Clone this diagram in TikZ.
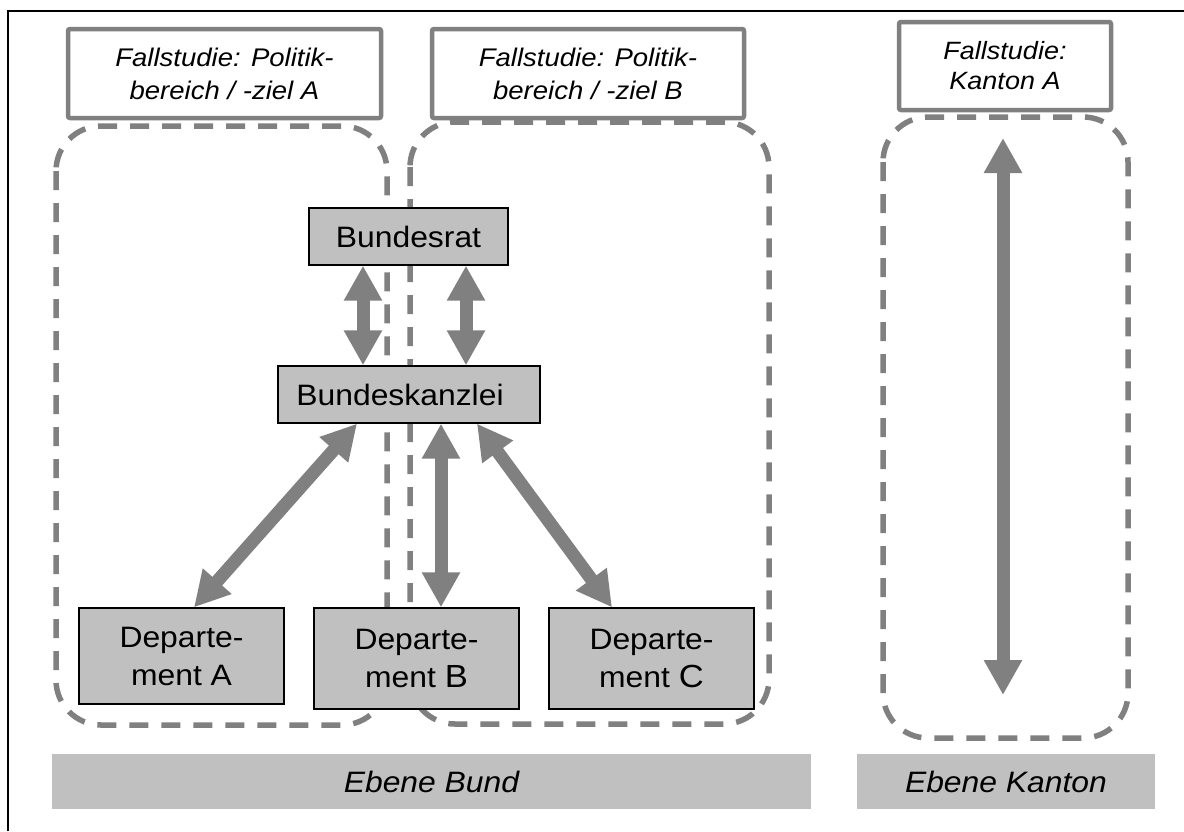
\documentclass[tikz,border=0pt]{standalone}
\usepackage{fontspec}
\setmainfont{Liberation Sans}[FakeStretch=1.08]
\usetikzlibrary{arrows.meta}
\definecolor{dgray}{HTML}{808080}
\definecolor{lgray}{HTML}{C0C0C0}
\begin{document}
\begin{tikzpicture}[x=1pt,y=-1pt,
  region/.style={draw=dgray, line width=5.5pt, dash pattern=on 19pt off 13pt, rounded corners=45pt},
  header/.style={draw=dgray, line width=4.5pt, fill=white, align=center, inner sep=0pt, rounded corners=2pt, font=\fontsize{25.5}{33}\selectfont\itshape},
  unit/.style={draw=black, line width=1.3pt, fill=lgray, align=center, inner sep=0pt, font=\fontsize{29.5}{38}\selectfont},
  level/.style={fill=lgray, inner sep=0pt, font=\fontsize{29.5}{36}\selectfont\itshape},
  link/.style={draw=dgray, line width=13pt, {Triangle[width=36pt,length=35pt]}-{Triangle[width=36pt,length=35pt]}},
  frame/.style={draw=black, line width=2.5pt}
]
\useasboundingbox (0,0) rectangle (1184,831);
\fill[white] (0,0) rectangle (1184,831);
% frame (only top and left edges are visible)
\draw[frame] (8,831) -- (8,11) -- (1184,11);

% dashed regions
\draw[region] (56,126) rectangle (387,725);
\draw[region] (410,122) rectangle (769,724);
\draw[region] (883,117) rectangle (1128,738);

% headers
\node[header, minimum width=313pt, minimum height=89pt] (hA) at (224.5,73.5) {Fallstudie: Politik-\\bereich / -ziel A};
\node[header, minimum width=312pt, minimum height=89pt] (hB) at (588,73.5) {Fallstudie: Politik-\\bereich / -ziel B};
\node[header, minimum width=212pt, minimum height=88pt, font=\fontsize{25}{30}\selectfont\itshape] (hK) at (1005,66) {Fallstudie:\\Kanton A};

% units
\node[unit, minimum width=199pt, minimum height=57pt] (br) at (408.5,236.5) {Bundesrat};
\node[unit, minimum width=262pt, minimum height=57pt] (bk) at (409,394.5) {Bundeskanzlei\hspace*{18pt}};
\node[unit, minimum width=205pt, minimum height=96pt] (dA) at (181.5,656) {Departe-\\ment A};
\node[unit, minimum width=205pt, minimum height=101pt] (dB) at (416.5,658.5) {Departe-\\ment {\fontsize{32}{38}\selectfont B}};
\node[unit, minimum width=205pt, minimum height=101pt] (dC) at (651.5,658.5) {Departe-\\ment {\fontsize{32}{38}\selectfont C}};

% levels
\node[level, minimum width=759pt, minimum height=55pt] (eB) at (431.5,781.5) {Ebene Bund};
\node[level, minimum width=298pt, minimum height=55pt] (eK) at (1006,781.5) {Ebene Kanton};

% arrows
\draw[link] ([xshift=-45.5pt]br.south) -- ([xshift=-46pt]bk.north);
\draw[link] ([xshift=57.5pt]br.south) -- ([xshift=57pt]bk.north);
\draw[link] ([xshift=-52pt]bk.south) -- ([xshift=12.5pt]dA.north);
\draw[link] ([xshift=32pt]bk.south) -- ([xshift=24.5pt]dB.north);
\draw[link] ([xshift=68pt]bk.south) -- ([xshift=-39.5pt]dC.north);

\coordinate (kt) at (1003,138);
\coordinate (kb) at (1003,695);
\draw[link] (kt) -- (kb);
\end{tikzpicture}
\end{document}
